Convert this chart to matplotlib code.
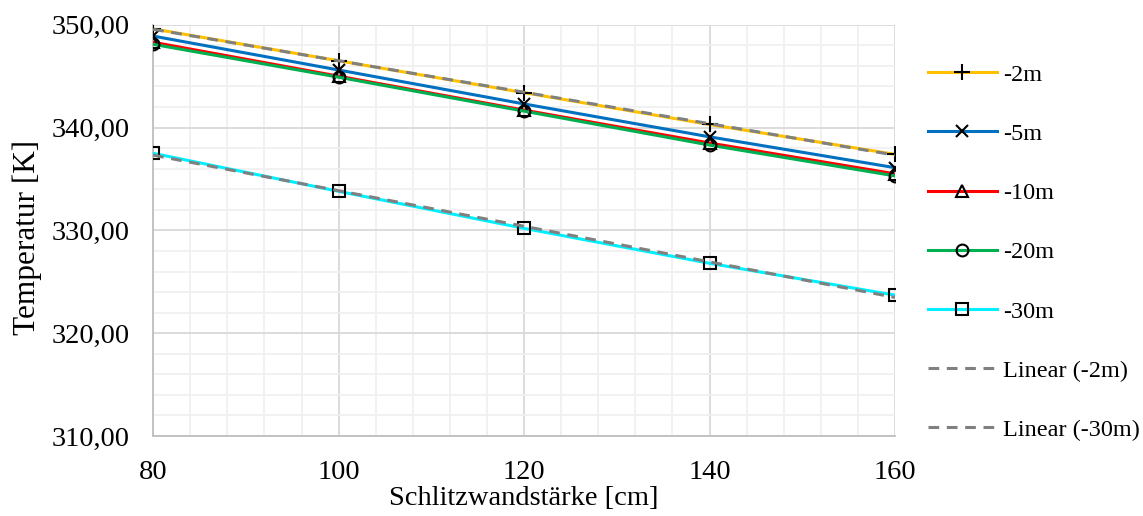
import numpy as np
import matplotlib
matplotlib.use("Agg")
import matplotlib.pyplot as plt
from matplotlib.ticker import MultipleLocator, FuncFormatter

plt.rcParams['font.family'] = ['Liberation Serif', 'DejaVu Serif']

x = [80, 100, 120, 140, 160]
t_2m = [349.6, 346.5, 343.4, 340.3, 337.4]
t_5m = [348.9, 345.6, 342.3, 339.1, 336.1]
t_10m = [348.3, 345.0, 341.7, 338.5, 335.5]
t_20m = [348.1, 344.9, 341.6, 338.3, 335.3]
t_30m = [337.5, 333.8, 330.2, 326.8, 323.7]

series = [
    ("-2m", t_2m, "#FFC000", "+"),
    ("-5m", t_5m, "#0070C0", "x"),
    ("-10m", t_10m, "#FF0000", "^"),
    ("-20m", t_20m, "#00B050", "o"),
    ("-30m", t_30m, "#00F0FF", "s"),
]
msizes = {"+": 11, "x": 9, "^": 8, "o": 8.5, "s": 8}

fig = plt.figure(figsize=(11.43, 5.16), dpi=100)
ax = fig.add_axes([0.134, 0.155, 0.649, 0.797])

for label, y, c, m in series:
    ax.plot(x, y, color=c, lw=2.2, marker=m, markersize=msizes[m],
            markerfacecolor="none", markeredgecolor="black", markeredgewidth=1.5,
            label=label, zorder=3)

xa = np.array(x, dtype=float)
for label, y in [("Linear (-2m)", t_2m), ("Linear (-30m)", t_30m)]:
    p = np.polyfit(xa, y, 1)
    ax.plot(xa, np.polyval(p, xa), color="#808080", lw=2.2, ls=(0, (3.5, 2.5)),
            label=label, zorder=4)

ax.set_xlim(80, 160)
ax.set_ylim(310, 350)
ax.xaxis.set_major_locator(MultipleLocator(20))
ax.xaxis.set_minor_locator(MultipleLocator(4))
ax.yaxis.set_major_locator(MultipleLocator(10))
ax.yaxis.set_minor_locator(MultipleLocator(2))
ax.yaxis.set_major_formatter(FuncFormatter(lambda v, p: f"{v:.2f}".replace(".", ",")))
ax.grid(which="major", color="#d9d9d9", lw=1.3, zorder=0)
ax.grid(which="minor", color="#f0f0f0", lw=1.3, zorder=0)
ax.set_axisbelow(True)
for s in ["top", "right"]:
    ax.spines[s].set_visible(False)
for s in ["left", "bottom"]:
    ax.spines[s].set_color("#bfbfbf")
    ax.spines[s].set_linewidth(1.3)
ax.tick_params(which="both", length=0, labelsize=20.5, colors="black")
ax.tick_params(axis="x", pad=17)
ax.tick_params(axis="y", pad=17)
ax.set_xlabel("Schlitzwandstärke [cm]", fontsize=20.5, labelpad=1)
ax.set_ylabel("Temperatur [K]", fontsize=22.5)
ax.yaxis.set_label_coords(-0.150, 0.484)

leg = ax.legend(loc="upper left", bbox_to_anchor=(1.031, 0.929), frameon=False,
                fontsize=17.5, handlelength=2.84, labelspacing=1.53, handletextpad=0.25,
                borderaxespad=0)
fig.savefig("out.png", dpi=100)
